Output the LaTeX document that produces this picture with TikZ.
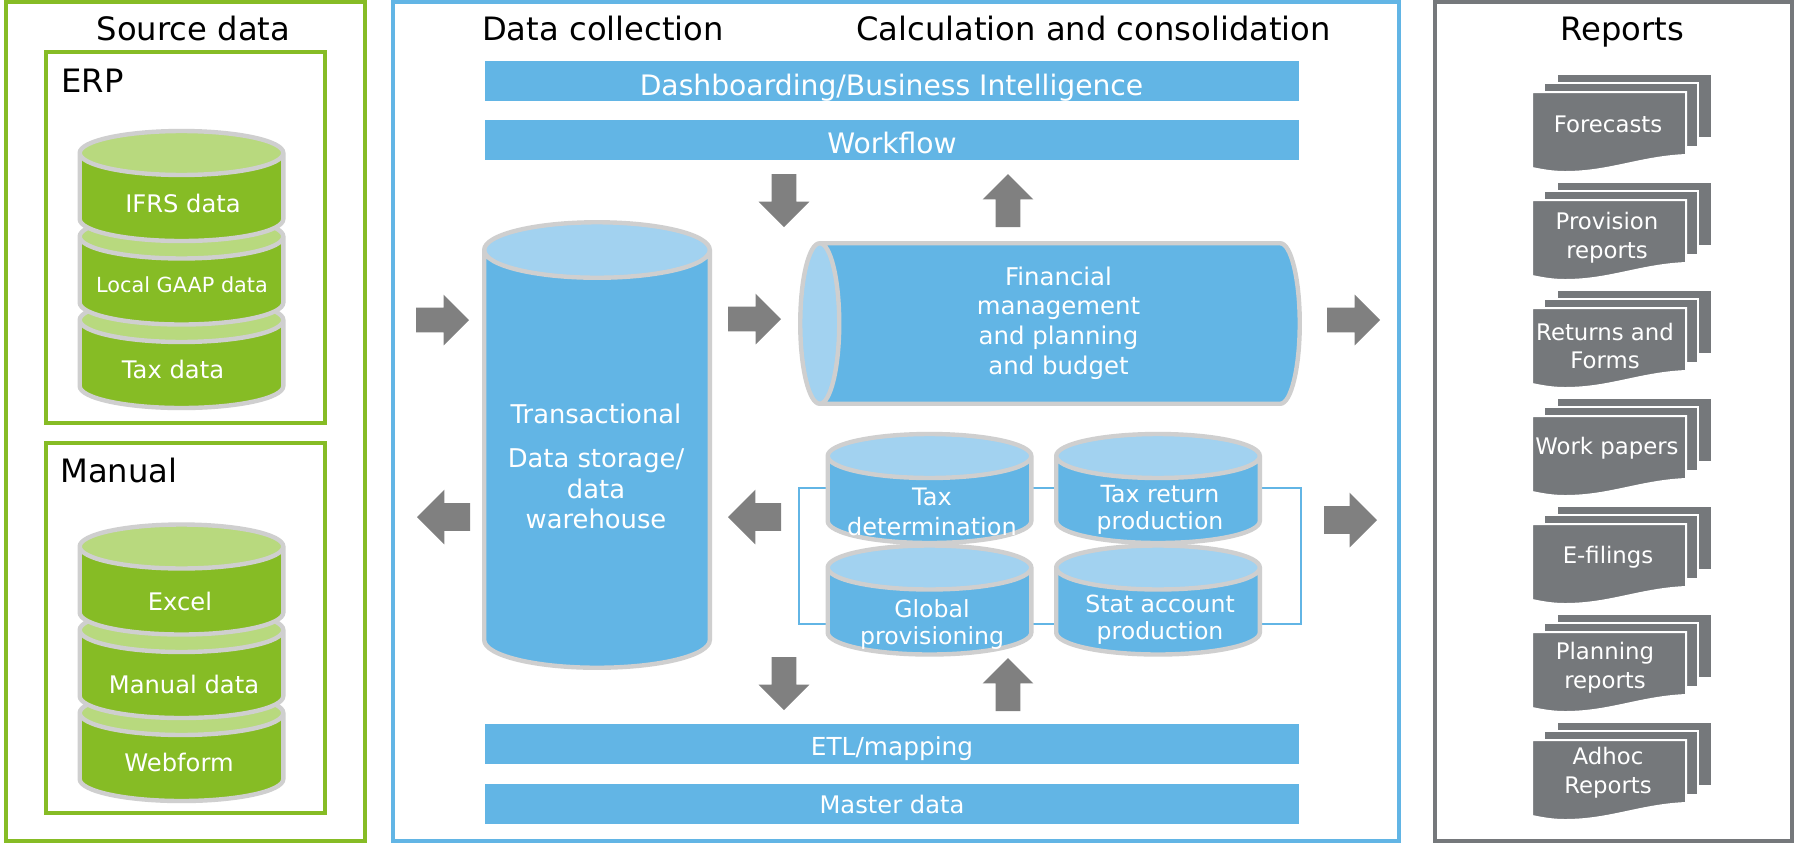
\documentclass[tikz,border=0pt]{standalone}
\usepackage{fontspec}
\setmainfont{DejaVu Sans}
\usetikzlibrary{shapes.geometric,shapes.arrows}
\definecolor{leafgreen}{HTML}{86BC25}
\definecolor{palegreen}{HTML}{B8D97E}
\definecolor{skyblue}{HTML}{62B5E5}
\definecolor{paleblue}{HTML}{A2D2F0}
\definecolor{rimgrey}{HTML}{CFCFCF}
\definecolor{arrowgrey}{HTML}{808080}
\definecolor{slategrey}{HTML}{75787B}
\newcommand{\reportdoc}[5]{
    \begin{scope}[shift={(0,#2)}]
        \draw[sheet] (1557,0) -- (1712,0) -- (1712,64) -- (1557,64) -- cycle;
        \draw[sheet] (1544,9) -- (1698,9) -- (1698,73) -- (1544,73) -- cycle;
        \draw[sheet] (1532,18) -- (1686,18) -- (1686,81)
            .. controls (1640,83) and (1610,98) .. (1565,98)
            .. controls (1552,98) and (1542,96) .. (1532,94) -- cycle;
        \node[sheettext] (#1) at (#3,#4) {#5};
    \end{scope}
}

\begin{document}
\begin{tikzpicture}[x=0.5pt, y=-0.5pt, node distance=2cm]
        \tikzstyle{panel}=[draw, fill=white, line width=2pt, inner sep=0, outer sep=0]
        \tikzstyle{subpanel}=[panel, line width=1.6pt]
        \tikzstyle{title}=[font=\fontsize{16.1}{19}\selectfont, text=black, inner sep=0, anchor=base]
        \tikzstyle{can}=[cylinder, shape border rotate=90, cylinder uses custom fill, draw=rimgrey, line width=2.2pt, inner ysep=0, outer sep=0, anchor=shape center]
        \tikzstyle{greencan}=[can, cylinder body fill=leafgreen, cylinder end fill=palegreen, inner xsep=50.9pt, minimum width=101.75pt, minimum height=55pt, aspect=0.216]
        \tikzstyle{bluecan}=[can, cylinder body fill=skyblue, cylinder end fill=paleblue]
        \tikzstyle{smallcan}=[bluecan, inner xsep=50.9pt, minimum width=101.75pt, minimum height=54.5pt, aspect=0.216]
        \tikzstyle{cantext}=[align=center, text=white, inner sep=0, font=\fontsize{12.1}{14.6}\selectfont]
        \tikzstyle{prodtext}=[cantext, font=\fontsize{11.8}{13.5}\selectfont]
        \tikzstyle{bar}=[draw=none, fill=skyblue, inner sep=0, outer sep=0, minimum width=407pt, minimum height=20pt]
        \tikzstyle{barlabel}=[text=white, inner sep=0, anchor=base, font=\fontsize{14.1}{16}\selectfont]
        \tikzstyle{blockarrow}=[single arrow, fill=arrowgrey, draw=none, inner xsep=0, inner ysep=6pt, outer sep=0, minimum width=25pt, minimum height=26.5pt, single arrow head extend=6.5pt, anchor=tail]
        \tikzstyle{wideback}=[inner ysep=6.7pt, single arrow head extend=6.8pt]
        \tikzstyle{sheet}=[fill=slategrey, draw=white, line width=1pt]
        \tikzstyle{sheettext}=[align=center, text=white, inner sep=0, font=\fontsize{11.4}{14.4}\selectfont]
        \tikzstyle{feedline}=[draw=skyblue, line width=1pt]

        \useasboundingbox (0,0) rectangle (1794,843);

        % three panels
        \node[panel, draw=leafgreen, minimum width=179.5pt, minimum height=419.5pt] (source) at (185.5,421.5) {};
        \node[panel, draw=skyblue, minimum width=503pt, minimum height=419.5pt] (middle) at (896,421.5) {};
        \node[panel, draw=slategrey, minimum width=178.5pt, minimum height=419.5pt] (reports) at (1613.5,421.5) {};
        \node[subpanel, draw=leafgreen, minimum width=139.5pt, minimum height=185.5pt] (erp) at (185.5,237.5) {};
        \node[subpanel, draw=leafgreen, minimum width=139.5pt, minimum height=185pt] (manual) at (185.5,628) {};

        \node[title] (sourcetitle) at (193.5,40) {Source data};
        \node[title] (collecttitle) at (603,40) {Data collection};
        \node[title] (calctitle) at (1093.5,40) {Calculation and consolidation};
        \node[title] (reporttitle) at (1622,40.5) {Reports};
        \node[title, anchor=base west] (erptitle) at (61,92.5) {ERP};
        \node[title, anchor=base west] (manualtitle) at (60,482.5) {Manual};

        % source data
        \node[greencan] (tax) at (181.5,353) {};
        \node[greencan] (gaap) at (181.5,269.5) {};
        \node[greencan] (ifrs) at (181.5,186) {};
        \node[cantext] (ifrslabel) at (183,203) {IFRS data};
        \node[cantext, font=\fontsize{10.4}{12}\selectfont] (gaaplabel) at (182,285) {Local GAAP data};
        \node[cantext] (taxlabel) at (173,369) {Tax data};

        \node[greencan] (web) at (181.5,746) {};
        \node[greencan] (mdata) at (181.5,663) {};
        \node[greencan] (excel) at (181.5,579.5) {};
        \node[cantext] (excellabel) at (180,601) {Excel};
        \node[cantext] (mdatalabel) at (184,684) {Manual data};
        \node[cantext] (weblabel) at (179,762) {Webform};

        % bars
        \node[bar] (dash) at (892,81) {};
        \node[bar] (flow) at (892,140) {};
        \node[bar] (etl) at (892,744) {};
        \node[bar] (master) at (892,803.5) {};
        \node[barlabel] (dashlabel) at (891.5,95) {Dashboarding/Business Intelligence};
        \node[barlabel] (flowlabel) at (892,153) {Workflow};
        \node[barlabel, font=\fontsize{12.4}{15}\selectfont] (etllabel) at (892,755) {ETL/mapping};
        \node[barlabel, font=\fontsize{12.1}{15}\selectfont] (masterlabel) at (892,813) {Master data};

        % storage and planning
        \node[bluecan, inner xsep=56.4pt, minimum width=112.75pt, minimum height=222.75pt, aspect=0.246] (store) at (597,445) {};
        \node[cantext, font=\fontsize{12.9}{15.25}\selectfont] (storelabela) at (596,414) {Transactional};
        \node[cantext, font=\fontsize{12.9}{15.25}\selectfont] (storelabelb) at (596,489) {Data storage/\\data\\warehouse};
        \node[bluecan, shape border rotate=180, inner xsep=0, inner ysep=40.1pt, minimum width=80.25pt, minimum height=249.75pt, aspect=0.243] (plan) at (1050,323.5) {};
        \node[cantext, font=\fontsize{12.2}{14.85}\selectfont] (planlabel) at (1058.5,323) {Financial\\management\\and planning\\and budget};

        % production group
        \coordinate (frametl) at (799,488);
        \coordinate (framebr) at (1300.5,623.5);
        \draw[feedline] (frametl) rectangle (framebr);
        \node[smallcan] (taxdet) at (929.5,488.5) {};
        \node[smallcan] (taxret) at (1158,488.5) {};
        \node[smallcan] (global) at (929.5,600) {};
        \node[smallcan] (stat) at (1158,600) {};
        \node[prodtext, font=\fontsize{12}{15}\selectfont] (taxdetlabel) at (932,512) {Tax\\determination};
        \node[prodtext] (taxretlabel) at (1160,509.5) {Tax return\\production};
        \node[prodtext] (globallabel) at (932,624.5) {Global\\provisioning};
        \node[prodtext] (statlabel) at (1160,619.5) {Stat account\\production};

        % flow arrows
        \node[blockarrow] (ina) at (416,320) {};
        \node[blockarrow, wideback, rotate=180] (outa) at (470,517) {};
        \node[blockarrow] (inb) at (728,319) {};
        \node[blockarrow, wideback, rotate=180] (outb) at (781,517) {};
        \node[blockarrow] (repa) at (1327,320) {};
        \node[blockarrow, wideback] (repb) at (1324,520) {};
        \node[blockarrow, rotate=270] (downa) at (784,174) {};
        \node[blockarrow, rotate=90] (upa) at (1008,227) {};
        \node[blockarrow, rotate=270] (downb) at (784,657) {};
        \node[blockarrow, rotate=90] (upb) at (1008,711) {};

        % reports
        \reportdoc{forecasts}{74}{1608}{50}{Forecasts}
        \reportdoc{provision}{182}{1607}{55.5}{Provision\\reports}
        \reportdoc{returns}{290}{1605}{56}{Returns and\\Forms}
        \reportdoc{papers}{398}{1607}{50}{Work papers}
        \reportdoc{efilings}{506}{1608}{51}{E-filings}
        \reportdoc{planning}{614}{1605}{53.5}{Planning\\reports}
        \reportdoc{adhoc}{722}{1608}{50.5}{Adhoc\\Reports}
    \end{tikzpicture}
\end{document}
